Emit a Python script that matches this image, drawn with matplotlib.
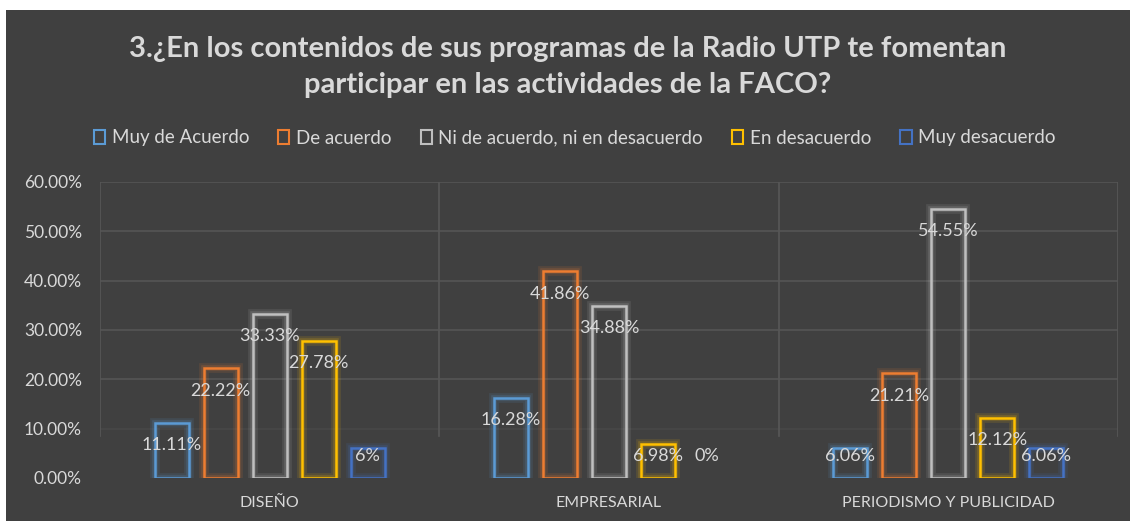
import matplotlib
matplotlib.use("Agg")
import matplotlib.pyplot as plt
import numpy as np
from matplotlib.patches import Patch, Rectangle

categories = ["DISEÑO", "EMPRESARIAL", "PERIODISMO Y PUBLICIDAD"]
series_names = ["Muy de Acuerdo", "De acuerdo", "Ni de acuerdo, ni en desacuerdo",
                "En desacuerdo", "Muy desacuerdo"]
muy_de_acuerdo = [11.11, 16.28, 6.06]
de_acuerdo = [22.22, 41.86, 21.21]
ni_ni = [33.33, 34.88, 54.55]
en_desacuerdo = [27.78, 6.98, 12.12]
muy_desacuerdo = [6.0, 0.0, 6.06]
label_texts = [
    ["11.11%", "16.28%", "6.06%"],
    ["22.22%", "41.86%", "21.21%"],
    ["33.33%", "34.88%", "54.55%"],
    ["27.78%", "6.98%", "12.12%"],
    ["6%", "0%", "6.06%"],
]
yticks = [0, 10, 20, 30, 40, 50, 60]
ytick_labels = ["0.00%", "10.00%", "20.00%", "30.00%", "40.00%", "50.00%", "60.00%"]
title = "3.¿En los contenidos de sus programas de la Radio UTP te fomentan\nparticipar en las actividades de la FACO?"

series = [muy_de_acuerdo, de_acuerdo, ni_ni, en_desacuerdo, muy_desacuerdo]
colors = ["#5B9BD5", "#ED7D31", "#BFBFBF", "#FFC000", "#4472C4"]

BG = "#404040"
TXT = "#D9D9D9"
GRID = "#575757"
plt.rcParams['font.family'] = ["Lato", "DejaVu Sans"]

W, H = 1130, 521
fig = plt.figure(figsize=(W / 100, H / 100), dpi=100, facecolor="white")
fig.patches.append(Rectangle((6 / W, 0), 1 - 6 / W, 1 - 10 / H, transform=fig.transFigure,
                             facecolor=BG, edgecolor="none", zorder=-10))

ax = fig.add_axes([100 / W, (H - 478) / H, (1118 - 100) / W, (478 - 182) / H])
ax.set_facecolor("none")
ax.set_xlim(-0.5, 2.5)
ax.set_ylim(0, 60)
for s in ax.spines.values():
    s.set_visible(False)

# gridlines
for yv in yticks[1:]:
    ax.axhline(yv, color=GRID, lw=1.2, zorder=0, alpha=0.9 if yv > 10 else 0.35)
for xv in [-0.5, 0.5, 1.5, 2.5]:
    ax.plot([xv, xv], [8.5, 60], color=GRID, lw=1.2, zorder=0)

x = np.arange(len(categories))
step = 0.1445
bw = 0.1
for i, (vals, c) in enumerate(zip(series, colors)):
    pos = x + (i - 2) * step
    for p, v, t in zip(pos, vals, label_texts[i]):
        if v > 0:
            ax.bar(p, v, width=bw, facecolor="none", edgecolor=c, linewidth=7, alpha=0.12, zorder=2)
            ax.bar(p, v, width=bw, facecolor="none", edgecolor=c, linewidth=4, alpha=0.18, zorder=2)
            ax.bar(p, v, width=bw, facecolor="none", edgecolor=c, linewidth=1.8, zorder=3)
        yl = max(v - 4.5, 4.5)
        ax.text(p, yl, t, ha="center", va="center", color=TXT, fontsize=13, zorder=5)

ax.set_yticks(yticks)
ax.set_yticklabels(ytick_labels)
ax.set_xticks(x)
ax.set_xticklabels(categories)
ax.tick_params(axis="y", length=0, pad=13, labelcolor=TXT, labelsize=12.5)
ax.tick_params(axis="x", length=0, pad=13, labelcolor=TXT, labelsize=11.5)

fig.text(0.5 * (6 + W) / W, (H - 67) / H, title, ha="center", va="center", color=TXT,
         fontsize=21, fontweight="bold", linespacing=1.45)

handles = [Patch(facecolor="none", edgecolor=c, linewidth=1.5) for c in colors]
leg = fig.legend(handles, series_names, loc="center", bbox_to_anchor=(0.5 * (6 + W) / W + 0.006, (H - 138) / H),
                 ncol=5, frameon=False, fontsize=13.5, labelcolor=TXT, handlelength=0.6,
                 handleheight=0.85, handletextpad=0.35, columnspacing=1.55)

fig.savefig("out.png", dpi=100, facecolor="white")
